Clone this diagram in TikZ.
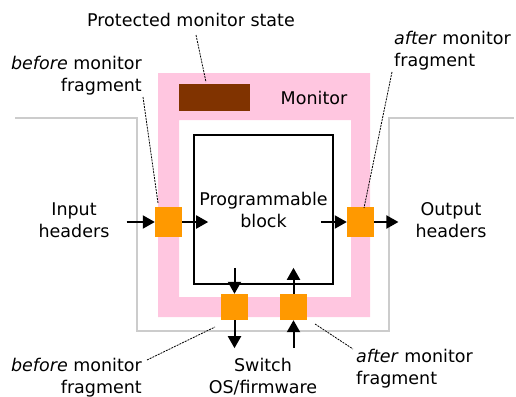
\documentclass[tikz,border=0pt]{standalone}
\usepackage{fontspec}
\setmainfont{DejaVu Sans}
\usetikzlibrary{arrows.meta}

\definecolor{monpink}{RGB}{255,198,224}
\definecolor{fragorange}{RGB}{255,153,0}
\definecolor{statebrown}{RGB}{128,51,0}

\begin{document}
\begin{tikzpicture}[x=1pt, y=-1pt,
  every node/.style={font=\fontsize{17.5}{22}\selectfont, inner sep=0pt},
  fragment/.style={fill=fragorange, minimum width=27pt, minimum height=30pt},
  flow/.style={-{Triangle[length=12pt,width=13pt]}, line width=2pt},
  leader/.style={dash pattern=on 2pt off 1pt, line width=0.8pt},
  hdr/.style={align=center, inner xsep=17pt}]
  \useasboundingbox (0,0) rectangle (516,396);

  % --- 1. Switch outline ---
  \draw[gray!40, line width=2pt] (15,118) -- (137,118) -- (137,331) -- (389,331) -- (389,118) -- (514,118);

  % --- 2. Monitor frame and its state ---
  \fill[monpink, even odd rule] (158,73) rectangle (370,317) (179,120) rectangle (351,297);
  \node (monitor) at (314,98) {Monitor};
  \node[fill=statebrown, minimum width=71pt, minimum height=27pt] (state) at (214.5,97.5) {};

  % --- 3. Programmable block ---
  \node[draw, line width=1.2pt, minimum width=139pt, minimum height=149pt, align=center] (prog) at (263.5,209.5) {Programmable\\block};

  % --- 4. Monitor fragments ---
  \node[fragment] (fragIn) at (168.5,222) {};
  \node[fragment] (fragOut) at (360.5,222) {};
  \node[fragment, minimum height=26pt] (fragDown) at (234.5,307) {};
  \node[fragment, minimum height=26pt] (fragUp) at (293.5,307) {};

  % --- 5. Headers and switch software ---
  \node[hdr] (inHdr) at (74,220) {Input\\headers};
  \node[hdr] (outHdr) at (451,220) {Output\\headers};
  \node[align=center] (switch) at (263,377) {Switch\\OS/firmware};

  % --- 6. Flows ---
  \draw[flow] (inHdr.east |- fragIn.west) -- (fragIn.west);
  \draw[flow] (fragIn.east) -- ++(26,0);
  \draw[flow] ([xshift=-26pt]fragOut.west) -- (fragOut.west);
  \draw[flow] (fragOut.east) -- (outHdr.west |- fragOut.east);
  \draw[flow] ([yshift=26pt]fragDown.north) -- (fragDown.north);
  \draw[flow] (fragUp.north) -- ([yshift=26pt]fragUp.north);
  \draw[flow] (fragDown.south) -- ++(0,28);
  \draw[flow] ([yshift=-28pt]fragUp.south) -- (fragUp.south);

  % --- 7. Annotations ---
  \node (stateLbl) at (191,20) {Protected monitor state};
  \node[anchor=east, align=right] (beforeTop) at (142,76) {\textit{before} monitor\\fragment};
  \node[anchor=west, align=left] (afterTop) at (394,51) {\textit{after} monitor\\fragment};
  \node[anchor=east, align=right] (beforeBot) at (142,378) {\textit{before} monitor\\fragment};
  \node[anchor=west, align=left] (afterBot) at (356,369) {\textit{after} monitor\\fragment};

  \draw[leader] (196,35) -- (206,82);
  \draw[leader] (143,97) -- (158,203);
  \draw[leader] (392,72) -- (364,208);
  \draw[leader] (147,360) -- (215,327);
  \draw[leader] (315,324) -- (353,349);

\end{tikzpicture}
\end{document}
